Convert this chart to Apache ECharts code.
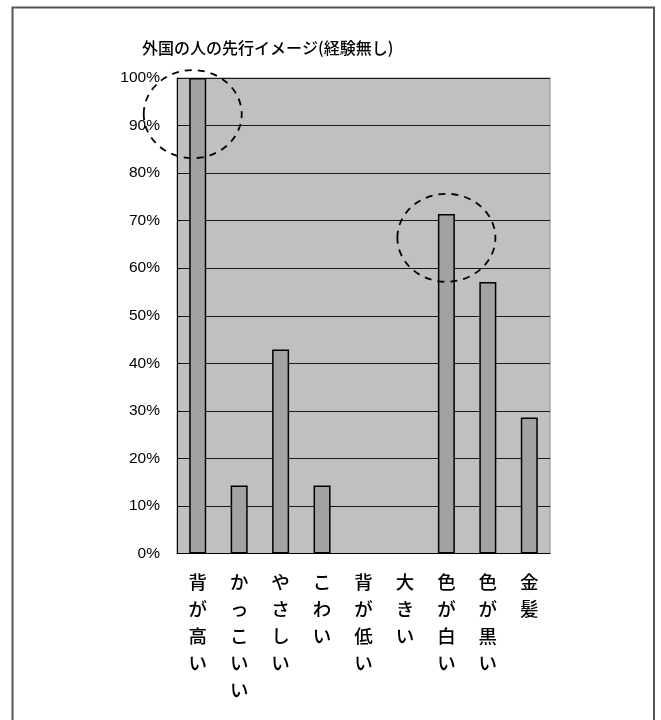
<!DOCTYPE html>
<html>
<head>
<meta charset="utf-8">
<script src="https://cdn.jsdelivr.net/npm/echarts@6/dist/echarts.min.js"></script>
<style>
  html, body { margin: 0; padding: 0; background: #fff; }
  #chart { width: 661px; height: 720px; }
</style>
</head>
<body>
<div id="chart"></div>
<script>
// Impressions of foreigners (respondents with no contact experience)
const titleText = '外国の人の先行イメージ(経験無し)';
const categories = ['背が高い', 'かっこいい', 'やさしい', 'こわい', '背が低い', '大きい', '色が白い', '色が黒い', '金髪'];
const shares = [1.0, 0.143, 0.429, 0.143, 0, 0, 0.714, 0.571, 0.286];
// Dashed rings drawn around notable bars: [category, value at ring centre]
const highlights = [['背が高い', 0.924], ['色が白い', 0.664]];

const jpFont = '"Noto Sans CJK JP", sans-serif';
const numFont = '"Liberation Sans", Arial, sans-serif';

const chart = echarts.init(document.getElementById('chart'));

// Empty categories get no outline, so nothing is drawn on the baseline
const barData = shares.map(v => v > 0 ? v : { value: v, itemStyle: { borderWidth: 0, opacity: 0 } });

chart.setOption({
  animation: false,
  backgroundColor: '#ffffff',
  title: {
    text: titleText,
    left: 137,
    top: 35,
    textStyle: { fontFamily: jpFont, fontSize: 16, fontWeight: 500, color: '#000' }
  },
  grid: {
    left: 177, right: 111, top: 78, bottom: 166.5,
    show: true, backgroundColor: '#c0c0c0', borderColor: '#8a8a8a', borderWidth: 1
  },
  xAxis: {
    type: 'category',
    data: categories,
    axisLine: { lineStyle: { color: '#000', width: 1 } },
    axisTick: { inside: true, length: 5, lineStyle: { color: '#000' } },
    axisLabel: {
      interval: 0,
      margin: 15,
      fontFamily: jpFont,
      fontSize: 18.5,
      fontWeight: 500,
      lineHeight: 27,
      color: '#000',
      verticalAlign: 'top',
      formatter: v => v.split('').join('\n')
    }
  },
  yAxis: {
    type: 'value',
    min: 0, max: 1, interval: 0.1,
    axisLine: { show: true, lineStyle: { color: '#000', width: 1 } },
    axisTick: { show: true, inside: true, length: 4, lineStyle: { color: '#000' } },
    splitLine: { lineStyle: { color: '#1a1a1a', width: 1 } },
    axisLabel: {
      margin: 17,
      fontFamily: numFont,
      fontSize: 15.5,
      color: '#000',
      formatter: v => Math.round(v * 100) + '%'
    }
  },
  series: [{
    type: 'bar',
    data: barData,
    barWidth: 17,
    itemStyle: { color: '#a2a2a2', borderColor: '#000', borderWidth: 1.5 }
  }]
});

// Page frame and dashed rings, placed from axis coordinates
const rings = highlights.map(([cat, val]) => {
  const p = chart.convertToPixel({ seriesIndex: 0 }, [cat, val]);
  return {
    type: 'ellipse',
    shape: { cx: p[0] - (cat === categories[0] ? 5 : 0), cy: p[1], rx: 49, ry: 44 },
    style: { fill: 'none', stroke: '#000', lineWidth: 1.8, lineDash: [7, 6] },
    z: 100
  };
});

chart.setOption({
  graphic: [
    {
      type: 'rect',
      shape: { x: 12.5, y: 7.5, width: 641.5, height: 730 },
      style: { fill: 'none', stroke: '#555', lineWidth: 2 },
      z: 100
    },
    ...rings
  ]
});
</script>
</body>
</html>
